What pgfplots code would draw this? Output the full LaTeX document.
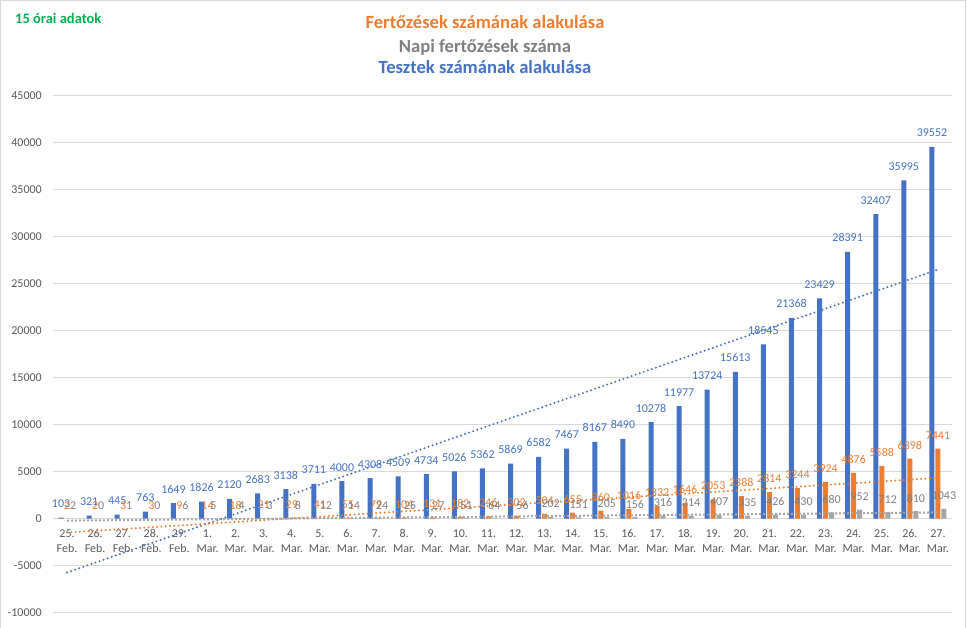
\documentclass[border=0pt]{standalone}
\usepackage{pgfplots}
\pgfplotsset{compat=1.18}
\usepackage{pgfplotstable}
\usepackage{fontspec}
\setmainfont{Carlito}
\definecolor{cblue}{HTML}{4472C4}
\definecolor{corange}{HTML}{ED7D31}
\definecolor{cgray}{HTML}{A5A5A5}
\definecolor{lgray}{HTML}{7F7F7F}
\definecolor{tgray}{HTML}{595959}
\definecolor{gridc}{HTML}{D9D9D9}
\definecolor{cgreen}{HTML}{00B050}

\pgfplotstableread{
x tests cases daily
0 103 2 2
1 321 2 0
2 445 3 1
3 763 3 0
4 1649 9 6
5 1826 14 5
6 2120 18 4
7 2683 21 3
8 3138 29 8
9 3711 41 12
10 4000 55 14
11 4308 79 24
12 4509 104 25
13 4734 131 27
14 5026 182 51
15 5362 246 64
16 5869 302 56
17 6582 504 202
18 7467 655 151
19 8167 860 205
20 8490 1016 156
21 10278 1332 316
22 11977 1646 314
23 13724 2053 407
24 15613 2388 335
25 18545 2814 426
26 21368 3244 430
27 23429 3924 680
28 28391 4876 952
29 32407 5588 712
30 35995 6398 810
31 39552 7441 1043
}\datatable

\begin{document}
\begin{tikzpicture}[x=1pt,y=1pt]
\useasboundingbox (0,0) rectangle (967,628);
\draw[gridc, line width=1.2pt] (0.6,0) -- (0.6,627.4) -- (965.4,627.4) -- (965.4,0);
\node[font=\bfseries\fontsize{18.6}{20}\selectfont, text=corange, anchor=base] at (485,599) {Fertőzések számának alakulása};
\node[font=\bfseries\fontsize{18.6}{20}\selectfont, text=lgray, anchor=base] at (485,575.7) {Napi fertőzések száma};
\node[font=\bfseries\fontsize{18.6}{20}\selectfont, text=cblue, anchor=base] at (485,554) {Tesztek számának alakulása};
\node[font=\bfseries\fontsize{14.5}{16}\selectfont, text=cgreen, anchor=base west, inner sep=0pt] at (15,604) {15 órai adatok};

\begin{axis}[
  at={(53pt,15.3pt)}, anchor=south west,
  scale only axis, width=899pt, height=517pt,
  xmin=-0.5, xmax=31.5, ymin=-10000, ymax=45000,
  clip=false,
  scaled y ticks=false,
  axis x line*=middle, axis y line*=left,
  hide obscured x ticks=false, hide obscured y ticks=false,
  x axis line style={draw=gridc, line width=1pt},
  y axis line style={draw=none},
  major tick length=0pt,
  ymajorgrids, grid style={draw=gridc, line width=0.9pt},
  ytick={-10000,-5000,0,5000,10000,15000,20000,25000,30000,35000,40000,45000},
  yticklabels={-10000,-5000,0,5000,10000,15000,20000,25000,30000,35000,40000,45000},
  yticklabel style={font=\fontsize{12}{14}\selectfont, text=tgray, anchor=east, inner sep=0pt, xshift=-11pt},
  xtick={0,...,31},
  xticklabels={{25.\\Feb.},{26.\\Feb.},{27.\\Feb.},{28.\\Feb.},{29.\\Feb.},
    {1.\\Mar.},{2.\\Mar.},{3.\\Mar.},{4.\\Mar.},{5.\\Mar.},{6.\\Mar.},{7.\\Mar.},{8.\\Mar.},{9.\\Mar.},
    {10.\\Mar.},{11.\\Mar.},{12.\\Mar.},{13.\\Mar.},{14.\\Mar.},{15.\\Mar.},{16.\\Mar.},{17.\\Mar.},
    {18.\\Mar.},{19.\\Mar.},{20.\\Mar.},{21.\\Mar.},{22.\\Mar.},{23.\\Mar.},{24.\\Mar.},{25.\\Mar.},
    {26.\\Mar.},{27.\\Mar.}},
  xticklabel style={font=\fontsize{12}{15}\selectfont, text=tgray, align=center, anchor=north, inner sep=0pt, yshift=-10.7pt},
  /pgf/number format/1000 sep={},
  /pgf/number format/assume math mode=true,
]
% bars
\addplot[ybar, bar width=5pt, bar shift=-6pt, fill=cblue, draw=none] table[x=x, y=tests] {\datatable};
\addplot[ybar, bar width=5pt, bar shift=0pt, fill=corange, draw=none] table[x=x, y=cases] {\datatable};
\addplot[ybar, bar width=5pt, bar shift=6pt, fill=cgray, draw=none] table[x=x, y=daily] {\datatable};
% linear trend lines
\addplot[cblue, line width=2.2pt, line cap=round, dash pattern=on 0pt off 4.3pt] coordinates {(0,-5721) (31,26505)};
\addplot[corange, line width=2.2pt, line cap=round, dash pattern=on 0pt off 4.3pt] coordinates {(0,-1468) (31,4342)};
\addplot[cgray, line width=2pt, line cap=butt, dash pattern=on 2pt off 2pt] coordinates {(0,-204) (31,669)};
% data labels
\addplot[ybar, bar width=5pt, bar shift=-6pt, draw=none, fill=none,
  nodes near coords, nodes near coords style={font=\fontsize{12}{14}\selectfont, text=cblue, anchor=base, inner sep=0pt, xshift=-6pt, yshift=10pt}]
  table[x=x, y=tests] {\datatable};
\addplot[ybar, bar width=5pt, bar shift=0pt, draw=none, fill=none,
  nodes near coords, nodes near coords style={font=\fontsize{12}{14}\selectfont, text=corange, anchor=base, inner sep=0pt, yshift=9.5pt}]
  table[x=x, y=cases] {\datatable};
\addplot[ybar, bar width=5pt, bar shift=6pt, draw=none, fill=none,
  nodes near coords, nodes near coords style={font=\fontsize{12}{14}\selectfont, text=lgray, anchor=base, inner sep=0pt, xshift=6pt, yshift=9pt}]
  table[x=x, y=daily] {\datatable};
\end{axis}
\end{tikzpicture}
\end{document}
